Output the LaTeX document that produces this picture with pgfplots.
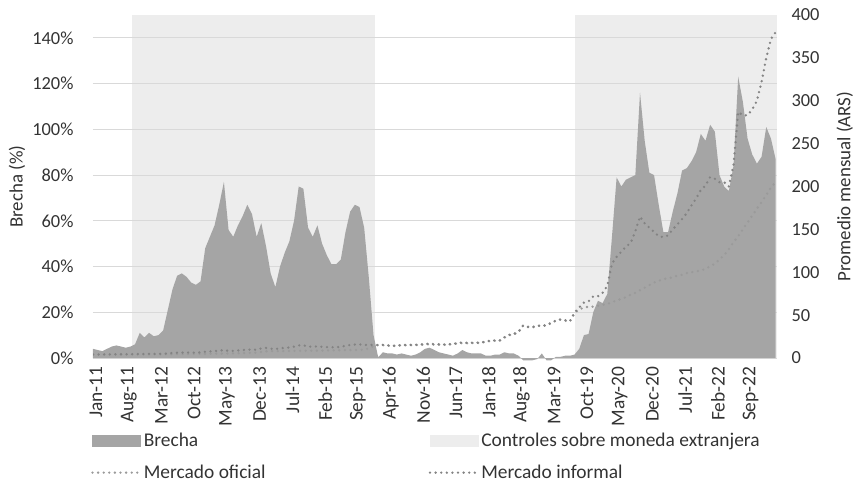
\documentclass[border=0pt]{standalone}
\usepackage{pgfplots}
\pgfplotsset{compat=1.18}
\usepackage{pgfplotstable}
\usepackage{fontspec}
\setmainfont{Carlito}
\definecolor{areagray}{HTML}{A5A5A5}
\definecolor{ctrl}{HTML}{EDEDED}
\definecolor{gridc}{HTML}{D9D9D9}
\definecolor{ofc}{HTML}{9A9A9A}
\definecolor{infc}{HTML}{838383}
\definecolor{txt}{HTML}{333333}

\pgfplotstableread{
i b of inf
0 4 3.98 4.14
1 3.5 4.00 4.14
2 3 4.03 4.15
3 4 4.05 4.21
4 5 4.08 4.28
5 5.5 4.09 4.31
6 5 4.12 4.33
7 4.5 4.17 4.36
8 5 4.20 4.41
9 6 4.22 4.47
10 11 4.27 4.74
11 9 4.29 4.68
12 11 4.32 4.80
13 9.5 4.34 4.75
14 10 4.36 4.80
15 12 4.40 4.93
16 21 4.45 5.38
17 30 4.50 5.85
18 36 4.56 6.20
19 37 4.63 6.34
20 35.5 4.70 6.37
21 33 4.76 6.33
22 32 4.82 6.36
23 33.5 4.88 6.51
24 48 4.95 7.33
25 53 5.01 7.67
26 58 5.08 8.03
27 67 5.15 8.60
28 77 5.24 9.27
29 56 5.33 8.31
30 53 5.44 8.32
31 58 5.59 8.83
32 62 5.74 9.30
33 67 5.85 9.77
34 63 6.05 9.86
35 53 6.25 9.56
36 59 7.10 11.29
37 49 7.86 11.71
38 37 7.93 10.86
39 31 8.00 10.48
40 40 8.04 11.26
41 46 8.13 11.87
42 51 8.13 12.28
43 60 8.26 13.22
44 75 8.42 14.74
45 74 8.49 14.77
46 57 8.53 13.39
47 53 8.55 13.08
48 58 8.63 13.64
49 50 8.70 13.05
50 45 8.80 12.76
51 41 8.89 12.53
52 41 8.98 12.66
53 43 9.08 12.98
54 55 9.18 14.23
55 64 9.29 15.24
56 67 9.42 15.73
57 66 9.53 15.82
58 57 9.66 15.17
59 35 11.45 15.46
60 10 13.74 15.11
61 0.3 15.14 15.19
62 2.5 14.99 15.36
63 2 14.42 14.71
64 2 14.19 14.47
65 1.5 13.98 14.19
66 2 14.97 15.27
67 1.5 14.91 15.13
68 1 15.11 15.26
69 1.5 15.17 15.40
70 2.5 15.34 15.72
71 4 15.85 16.48
72 4.5 15.91 16.63
73 3.5 15.59 16.14
74 2.5 15.58 15.97
75 2 15.36 15.67
76 1.5 15.73 15.97
77 1 16.11 16.27
78 2 17.17 17.51
79 3.5 17.44 18.05
80 2.5 17.25 17.68
81 2 17.43 17.78
82 2 17.47 17.82
83 2 17.62 17.97
84 1 19.05 19.24
85 1 19.98 20.18
86 1.5 20.17 20.47
87 1.5 20.17 20.47
88 2.5 23.68 24.27
89 2 26.55 27.08
90 2 27.50 28.05
91 1 30.27 30.57
92 -1 38.09 37.71
93 -1 36.52 36.15
94 -1 36.15 35.79
95 -0.5 37.71 37.52
96 2 37.32 38.07
97 -1 38.18 37.80
98 -1 41.30 40.89
99 0.5 43.42 43.64
100 0.5 44.80 45.02
101 1 43.59 44.03
102 1 42.47 42.89
103 1.5 52.30 53.08
104 4 56.71 58.98
105 10 58.77 64.65
106 10.5 59.77 66.05
107 20 59.90 71.88
108 25 61 72
109 24 62 76
110 28 63 84
111 53 65 110
112 79 67 118
113 75 69 124
114 78 71 130
115 79 74 134
116 80 76 148
117 116 79 165
118 95 82 157
119 81 85 152
120 80 88 147
121 67 90 142
122 55 92 141
123 55 93 143
124 64 94 150
125 72 96 156
126 82 97 162
127 83 99 169
128 86 100 178
129 90 101 186
130 98 102 196
131 95 104 201
132 102 107 211
133 99 110 209
134 80 115 205
135 75 120 205
136 73 127 200
137 84 135 225
138 123 142 287
139 112 150 283
140 96 158 283
141 89 166 290
142 85 174 300
143 88 182 322
144 101 190 350
145 96 199 372
146 87 205 380
}\data

\pgfplotsset{
  common/.style={
    width=684bp, height=343bp, scale only axis,
    xmin=0, xmax=146.3, ymin=0,
    tick label style={font=\fontsize{18.5}{22}\selectfont, text=txt},
    label style={font=\fontsize{19}{22}\selectfont, text=txt},
    major tick length=0pt,
    tick style={draw=none},
    /pgf/number format/assume math mode=true,
  },
  dotstyle/.style={line width=2.6bp, line cap=round, dash pattern=on 0bp off 5.6bp,
    legend image code/.code={\draw[##1] (0bp,0bp) -- (48bp,0bp);}},
}

\begin{document}
\begin{tikzpicture}
% shaded control periods
\begin{axis}[common, ymax=150, hide axis]
  \addplot[fill=ctrl, draw=none] coordinates {(8.35,150) (60.4,150)} \closedcycle;
  \addplot[fill=ctrl, draw=none] coordinates {(103.2,150) (146.3,150)} \closedcycle;
\end{axis}
% gap (left axis)
\begin{axis}[common, name=ax, ymax=150,
    axis x line*=bottom, axis y line*=left,
    x axis line style={draw=gridc, line width=1bp},
    y axis line style={draw=none},
    ymajorgrids, grid style={draw=gridc, line width=1bp},
    ytick={0,20,...,140},
    yticklabel={\pgfmathprintnumber{\tick}\%},
    yticklabel style={xshift=-16bp},
    xtick={0,7,...,140},
    xticklabels={Jan-11,Aug-11,Mar-12,Oct-12,May-13,Dec-13,Jul-14,Feb-15,Sep-15,Apr-16,Nov-16,Jun-17,Jan-18,Aug-18,Mar-19,Oct-19,May-20,Dec-20,Jul-21,Feb-22,Sep-22},
    xticklabel style={xshift=3bp, yshift=-5bp, rotate=90, anchor=east, font=\fontsize{19.5}{22}\selectfont},
    ylabel={Brecha (\%)},
    ylabel style={at={(axis description cs:-0.111,0.5)}, anchor=center},
    clip=false]
  \addplot[fill=areagray, draw=none] table[x=i, y=b]{\data} \closedcycle;
\end{axis}
% exchange rates (right axis)
\begin{axis}[common, ymax=400,
    axis x line=none, axis y line*=right,
    y axis line style={draw=none},
    ytick={0,50,...,400},
    yticklabel style={xshift=11bp},
    ylabel={Promedio mensual (ARS)},
    ylabel style={at={(axis description cs:1.099,0.5)}, anchor=center},
    legend columns=2,
    legend style={at={(axis description cs:-0.0073,-0.207)}, anchor=north west,
      draw=none, fill=none, font=\fontsize{19.5}{22}\selectfont, text=txt,
      row sep=13bp,
      /tikz/every even column/.append style={column sep=161bp}},
    legend cell align=left]
  \addlegendimage{legend image code/.code={\fill[areagray] (0bp,-5.5bp) rectangle (48bp,5.5bp);}}
  \addlegendentry{Brecha}
  \addlegendimage{legend image code/.code={\fill[ctrl] (0bp,-5.5bp) rectangle (48bp,5.5bp);}}
  \addlegendentry{Controles sobre moneda extranjera}
  \addplot[dotstyle, draw=ofc] table[x=i, y=of]{\data};
  \addlegendentry{Mercado oficial}
  \addplot[dotstyle, draw=infc] table[x=i, y=inf]{\data};
  \addlegendentry{Mercado informal}
\end{axis}
\pgfresetboundingbox
\path ([xshift=-93bp,yshift=-127bp]ax.south west) rectangle ([xshift=78bp,yshift=15bp]ax.north east);
\end{tikzpicture}
\end{document}
